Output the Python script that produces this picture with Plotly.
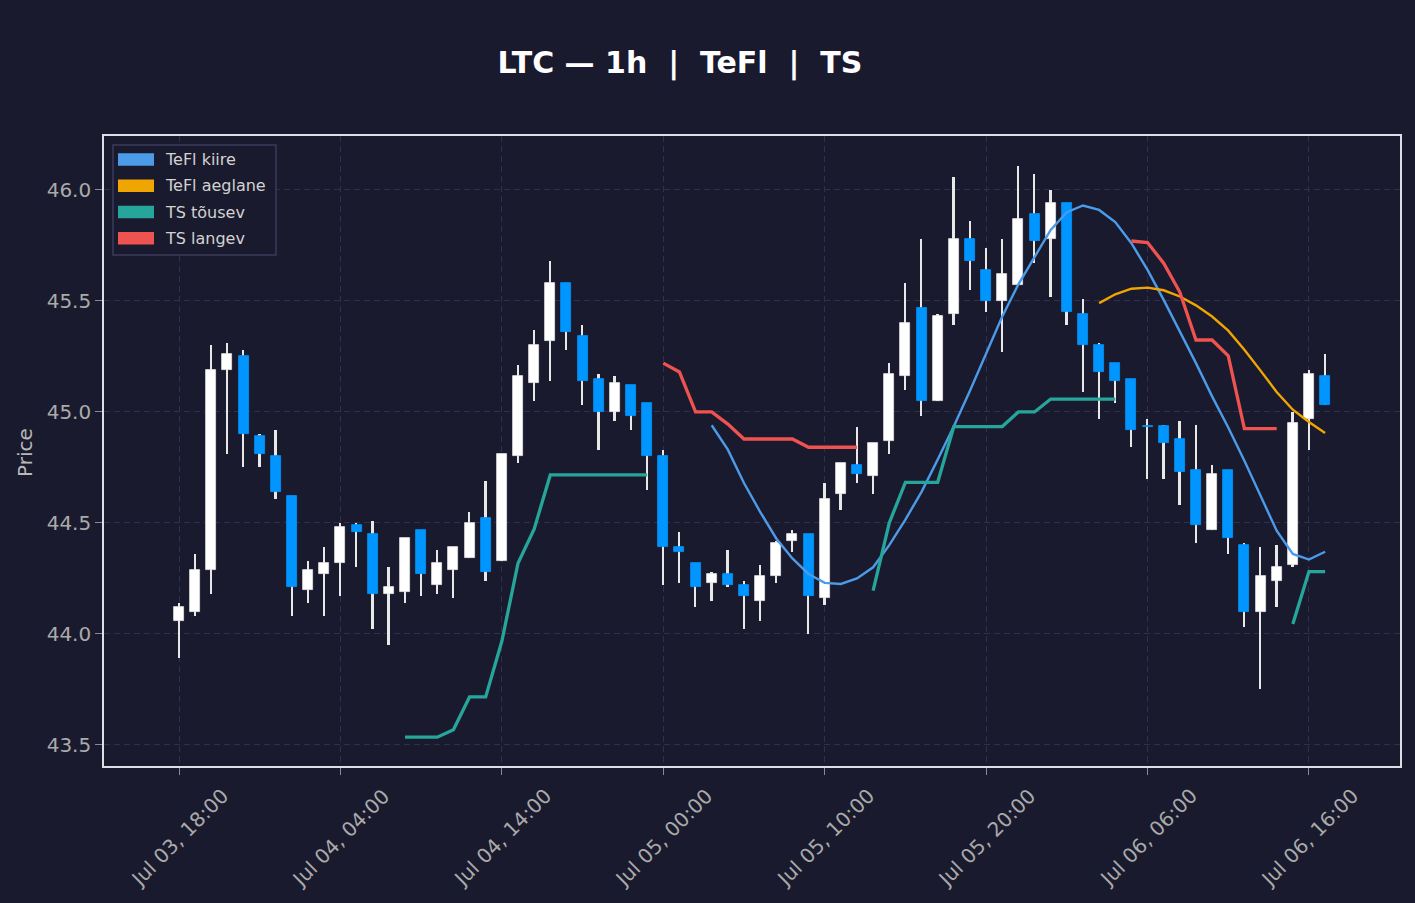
import plotly.graph_objects as go
from datetime import datetime, timedelta

# ---------------- data ----------------
start = datetime(2025, 7, 3, 18, 0)
n_candles = 72
times = [start + timedelta(hours=i) for i in range(n_candles)]

open_ = [44.06, 44.10, 44.29, 45.19, 45.25, 44.89, 44.80, 44.62, 44.20, 44.27,
         44.32, 44.49, 44.45, 44.18, 44.19, 44.47, 44.22, 44.29, 44.34, 44.52,
         44.33, 44.80, 45.13, 45.32, 45.58, 45.34, 45.15, 45.00, 45.12, 45.04,
         44.80, 44.39, 44.32, 44.23, 44.27, 44.22, 44.15, 44.26, 44.42, 44.45,
         44.16, 44.63, 44.76, 44.71, 44.87, 45.16, 45.47, 45.05, 45.44, 45.78,
         45.64, 45.50, 45.57, 45.89, 45.78, 45.94, 45.44, 45.30, 45.22, 45.15,
         44.935, 44.935, 44.88, 44.74, 44.47, 44.74, 44.40, 44.10, 44.24, 44.31,
         44.97, 45.16]
high = [44.14, 44.36, 45.30, 45.31, 45.28, 44.90, 44.92, 44.62, 44.33, 44.39,
        44.50, 44.50, 44.51, 44.30, 44.43, 44.47, 44.38, 44.39, 44.55, 44.69,
        44.81, 45.21, 45.37, 45.68, 45.58, 45.39, 45.17, 45.16, 45.12, 45.04,
        44.83, 44.46, 44.32, 44.28, 44.38, 44.24, 44.31, 44.42, 44.47, 44.45,
        44.68, 44.77, 44.93, 44.86, 45.22, 45.58, 45.78, 45.44, 46.06, 45.86,
        45.74, 45.78, 46.11, 46.07, 46.00, 45.94, 45.51, 45.31, 45.22, 45.15,
        44.97, 44.94, 44.96, 44.94, 44.76, 44.74, 44.41, 44.39, 44.40, 45.00,
        45.19, 45.26]
low = [43.89, 44.08, 44.18, 44.81, 44.75, 44.75, 44.61, 44.08, 44.14, 44.08,
       44.17, 44.30, 44.02, 43.95, 44.14, 44.17, 44.18, 44.16, 44.34, 44.24,
       44.33, 44.77, 45.05, 45.14, 45.28, 45.03, 44.83, 44.96, 44.92, 44.65,
       44.22, 44.23, 44.12, 44.15, 44.21, 44.02, 44.06, 44.23, 44.37, 44.00,
       44.13, 44.56, 44.68, 44.63, 44.81, 45.10, 44.98, 45.05, 45.39, 45.55,
       45.45, 45.27, 45.57, 45.67, 45.52, 45.39, 45.09, 44.97, 45.04, 44.84,
       44.70, 44.70, 44.58, 44.41, 44.47, 44.36, 44.03, 43.75, 44.12, 44.30,
       44.83, 45.03]
close = [44.12, 44.29, 45.19, 45.26, 44.90, 44.81, 44.64, 44.21, 44.29, 44.32,
         44.48, 44.46, 44.18, 44.21, 44.43, 44.27, 44.32, 44.39, 44.50, 44.28,
         44.81, 45.16, 45.30, 45.58, 45.36, 45.14, 45.00, 45.13, 44.98, 44.80,
         44.39, 44.37, 44.21, 44.27, 44.22, 44.17, 44.26, 44.41, 44.45, 44.17,
         44.61, 44.77, 44.72, 44.86, 45.17, 45.40, 45.05, 45.43, 45.78, 45.68,
         45.50, 45.62, 45.87, 45.77, 45.94, 45.45, 45.30, 45.18, 45.14, 44.92,
         44.93, 44.86, 44.73, 44.49, 44.72, 44.43, 44.10, 44.26, 44.30, 44.95,
         45.17, 45.03]

# indicator values (index of first candle, values)
tefl_kiire_start = 33
tefl_kiire_vals = [44.94, 44.83, 44.68, 44.55, 44.43, 44.34, 44.27, 44.23, 44.225, 44.25,
                   44.30, 44.40, 44.515, 44.64, 44.785, 44.935, 45.095, 45.26, 45.43, 45.575,
                   45.70, 45.82, 45.90, 45.93, 45.91, 45.855, 45.76, 45.64, 45.505, 45.365,
                   45.22, 45.07, 44.93, 44.78, 44.625, 44.465, 44.36, 44.335, 44.37]
tefl_aeglane_start = 57
tefl_aeglane_vals = [45.49, 45.53, 45.555, 45.56, 45.548, 45.52, 45.48, 45.43, 45.366, 45.28,
                     45.186, 45.09, 45.01, 44.955, 44.905]
ts_up_segments = [
    (14, [43.535, 43.535, 43.535, 43.568, 43.716, 43.716, 43.967, 44.318, 44.472,
          44.716, 44.716, 44.716, 44.716, 44.716, 44.716, 44.716]),
    (43, [44.195, 44.50, 44.683, 44.683, 44.683, 44.934, 44.934, 44.934, 44.934,
          45.0, 45.0, 45.058, 45.058, 45.058, 45.058, 45.058]),
    (69, [44.045, 44.281, 44.281]),
]
ts_down_segments = [
    (30, [45.22, 45.18, 45.0, 45.0, 44.945, 44.878, 44.878, 44.878, 44.878,
          44.841, 44.841, 44.841, 44.841]),
    (59, [45.77, 45.763, 45.67, 45.54, 45.324, 45.324, 45.253, 44.925, 44.925, 44.925]),
]

series_names = ["TeFl kiire", "TeFl aeglane", "TS tõusev", "TS langev"]
series_colors = ["#4C9BE8", "#F0A500", "#26A69A", "#EF5350"]
series_widths = [2.4, 2.4, 3.3, 3.3]

tick_times = [start + timedelta(hours=10 * k) for k in range(8)]
tick_labels = ["Jul 03, 18:00", "Jul 04, 04:00", "Jul 04, 14:00", "Jul 05, 00:00",
               "Jul 05, 10:00", "Jul 05, 20:00", "Jul 06, 06:00", "Jul 06, 16:00"]
y_ticks = [43.5, 44.0, 44.5, 45.0, 45.5, 46.0]

# ---------------- helpers ----------------
def pad(start_idx, vals):
    out = [None] * n_candles
    for k, v in enumerate(vals):
        out[start_idx + k] = v
    return out

def from_segments(segs):
    out = [None] * n_candles
    for s, vals in segs:
        for k, v in enumerate(vals):
            out[s + k] = v
    return out

series_values = [pad(tefl_kiire_start, tefl_kiire_vals),
                 pad(tefl_aeglane_start, tefl_aeglane_vals),
                 from_segments(ts_up_segments),
                 from_segments(ts_down_segments)]

BG = "#1a1a2e"
GRID = "#2f2f50"
AXLINE = "#dedee6"
TICKC = "#aaaaaa"
UP = "#ffffff"
DOWN = "#0095ff"
WICK = "#e8e8e8"
HOUR_MS = 3600 * 1000

fig = go.Figure()

# wicks
fig.add_trace(go.Bar(
    x=times, base=low, y=[h - l for h, l in zip(high, low)],
    width=[0.115 * HOUR_MS] * n_candles,
    marker=dict(color=WICK, line=dict(width=0)),
    showlegend=False, hoverinfo="skip"))

# bodies
for is_up, col, edge in [(True, UP, "#e2e2e2"), (False, DOWN, DOWN)]:
    xs, bases, hs = [], [], []
    for t, o, c in zip(times, open_, close):
        if (c >= o) == is_up:
            xs.append(t)
            bases.append(min(o, c))
            hs.append(max(abs(c - o), 0.004))
    fig.add_trace(go.Bar(
        x=xs, base=bases, y=hs, width=[0.62 * HOUR_MS] * len(xs),
        marker=dict(color=col, line=dict(color=edge, width=0.8)),
        showlegend=False, hoverinfo="skip"))

# indicator lines
for name, col, w, vals in zip(series_names, series_colors, series_widths, series_values):
    fig.add_trace(go.Scatter(x=times, y=vals, mode="lines", name=name,
                             line=dict(color=col, width=w), connectgaps=False,
                             showlegend=False))

# ---------------- layout ----------------
L, R, T, B = 104, 15, 136, 137
W, H = 1415, 903
PW, PH = W - L - R, H - T - B

def px_x(px):
    return (px - L) / PW

def px_y(py):
    return (H - B - py) / PH

shapes = []
annotations = []

# legend box
shapes.append(dict(type="rect", xref="paper", yref="paper", layer="above",
                   x0=px_x(113), x1=px_x(276), y0=px_y(255), y1=px_y(145),
                   fillcolor=BG, line=dict(color="#3a3a5c", width=1.5)))
row_y = [159.5, 185.8, 212.0, 238.3]
for name, col, cy in zip(series_names, series_colors, row_y):
    shapes.append(dict(type="rect", xref="paper", yref="paper", layer="above",
                       x0=px_x(118), x1=px_x(154), y0=px_y(cy + 6.2), y1=px_y(cy - 6.2),
                       fillcolor=col, line=dict(width=0)))
    annotations.append(dict(xref="paper", yref="paper", x=px_x(163), y=px_y(cy),
                            xanchor="left", yanchor="middle", showarrow=False,
                            text=name, font=dict(family="DejaVu Sans", size=16, color="#d2d2d2")))

# x tick labels
for t, lab in zip(tick_times, tick_labels):
    annotations.append(dict(xref="x", yref="paper", x=t, y=px_y(781),
                            xanchor="center", yanchor="top", showarrow=False,
                            textangle=-45, text=lab,
                            font=dict(family="DejaVu Sans", size=20, color=TICKC)))

# y axis title
annotations.append(dict(xref="paper", yref="paper", x=px_x(25), y=px_y(453),
                        xanchor="center", yanchor="middle", showarrow=False,
                        textangle=-90, text="Price",
                        font=dict(family="DejaVu Sans", size=20, color="#b8b8b8")))

nb = "\u00a0"
title_text = f"LTC — 1h{nb}{nb}|{nb}{nb}TeFl{nb}{nb}|{nb}{nb}TS"

fig.update_layout(
    width=W, height=H,
    paper_bgcolor=BG, plot_bgcolor=BG,
    margin=dict(l=L, r=R, t=T, b=B),
    barmode="overlay", bargap=0,
    showlegend=False,
    font=dict(family="DejaVu Sans", color=TICKC),
    title=dict(text=title_text, xref="container", yref="container",
               x=680 / W, y=1 - 62 / H, xanchor="center", yanchor="middle",
               font=dict(family="DejaVu Sans", size=30, color="#ffffff", weight="bold")),
    shapes=shapes, annotations=annotations,
)

fig.update_xaxes(
    type="date",
    range=[start - timedelta(hours=4.646), start + timedelta(hours=75.64)],
    tickvals=tick_times, showticklabels=False,
    ticks="outside", ticklen=7, tickwidth=1, tickcolor="#8a8a9a",
    showgrid=True, gridcolor=GRID, gridwidth=1, griddash="6px,4px",
    showline=True, linecolor=AXLINE, linewidth=1.6, mirror=True,
    zeroline=False, rangeslider=dict(visible=False),
)
fig.update_yaxes(
    range=[43.405, 46.243],
    tickvals=y_ticks, tickformat=".1f",
    tickfont=dict(family="DejaVu Sans", size=20, color=TICKC),
    ticks="outside", ticklen=7, tickwidth=1, tickcolor="#8a8a9a",
    showgrid=True, gridcolor=GRID, gridwidth=1, griddash="6px,4px",
    showline=True, linecolor=AXLINE, linewidth=1.6, mirror=True,
    zeroline=False,
)

fig.write_html("out.html")
